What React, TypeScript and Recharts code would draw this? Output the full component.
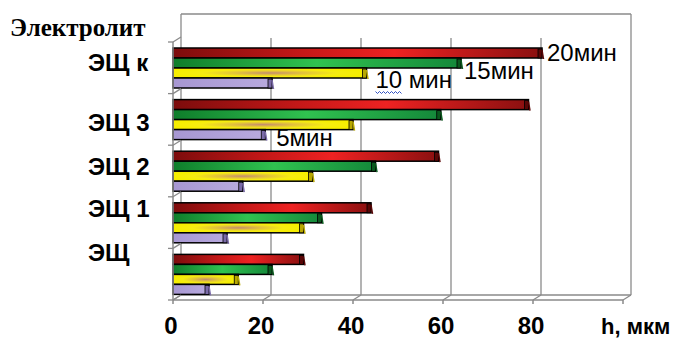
import { BarChart, Bar, XAxis, YAxis, CartesianGrid, LabelList } from "recharts";

const categories = ["ЭЩ к", "ЭЩ 3", "ЭЩ 2", "ЭЩ 1", "ЭЩ"];
const min20 = [82, 79, 59, 44, 29];
const min15 = [64, 59.5, 45, 33, 22];
const min10 = [43, 40, 31, 29, 14.5];
const min5 = [22, 20.5, 15.5, 12, 8];
const xTicks = [0, 20, 40, 60, 80, 100];

const data = categories.map((name, i) => ({
  name,
  m20: min20[i],
  m15: min15[i],
  m10: min10[i],
  m5: min5[i],
}));

const W = 677;
const H = 340;
const LEFT = 173;
const TOP = 42;
const PW = 450;
const PH = 258;
const BAND = PH / categories.length;
const DX = 8;
const DY = -5;
const AXIS = "#8a8a8a";
const SANS = "Liberation Sans, Arial, sans-serif";

// label offsets for the per-category text (3D projection in the original)
const labelShift = [-5, 3, -5, -14, -22];

function Bar3D(props: any) {
  const { x, y, width, height, fill, cap } = props;
  if (!width || width <= 0) return null;
  return (
    <g>
      <rect x={x} y={y} width={width} height={height} fill={fill} stroke="#000" strokeWidth={1.5} />
      <rect x={x + width - 4} y={y + 1} width={4} height={height - 1} fill={cap} stroke="#000" strokeWidth={0.8} />
      <line x1={x + width} y1={y + 2} x2={x + width + 1.5} y2={y + height + 1} stroke={cap} strokeWidth={1.5} />
    </g>
  );
}

function CatTick(props: any) {
  const { y, payload, index } = props;
  const top = y - BAND / 2;
  const bottom = y + BAND / 2;
  const mark = (yy: number, k: string) => (
    <g key={k}>
      <line x1={LEFT - 5} y1={yy} x2={LEFT} y2={yy} stroke={AXIS} strokeWidth={1.3} />
      <line x1={LEFT} y1={yy} x2={LEFT + DX} y2={yy + DY} stroke={AXIS} strokeWidth={1.3} />
    </g>
  );
  return (
    <g>
      {mark(top, "t")}
      {index === categories.length - 1 && mark(bottom, "b")}
      <text
        x={LEFT - 85}
        y={y + labelShift[index] + 8.5}
        fontFamily={SANS}
        fontWeight="bold"
        fontSize={24}
        fill="#000"
      >
        {payload.value}
      </text>
    </g>
  );
}

function ValTick(props: any) {
  const { x, y, payload } = props;
  return (
    <text
      x={x - 2}
      y={y + 28}
      textAnchor="middle"
      fontFamily={SANS}
      fontWeight="bold"
      fontSize={24}
      fill="#000"
    >
      {payload.value === 100 ? "" : payload.value}
    </text>
  );
}

function GridLine(props: any) {
  const { x1, y1, y2, index } = props;
  const bx = x1 + DX;
  const last = index === xTicks.length - 1;
  const edge = index === 0 || last;
  return (
    <g key={`g-${index}`}>
      <line x1={bx} y1={edge ? 14 : y1 - 4} x2={bx} y2={y2 + DY} stroke={AXIS} strokeWidth={1.3} />
      <line x1={x1} y1={y2} x2={bx} y2={y2 + DY} stroke={AXIS} strokeWidth={1.3} />
      {index === 0 && (
        <>
          <line x1={bx} y1={14} x2={bx + PW} y2={14} stroke={AXIS} strokeWidth={1.3} />
          <line x1={bx} y1={y2 + DY} x2={bx + PW} y2={y2 + DY} stroke={AXIS} strokeWidth={1.3} />
        </>
      )}
    </g>
  );
}

function seriesLabel(text: string, at: number, dx: number, dy: number, squiggle?: boolean) {
  return (props: any) => {
    const { x, y, width, height, index } = props;
    if (index !== at) return null;
    const tx = x + width + dx;
    const ty = y + height / 2 + dy + 8.5;
    return (
      <g>
        <text x={tx} y={ty} fontFamily={SANS} fontSize={24} fill="#000">
          {text}
        </text>
        {squiggle && (
          <path
            d={`M${tx} ${ty + 4} l2 2 l2 -2 l2 2 l2 -2 l2 2 l2 -2 l2 2 l2 -2 l2 2 l2 -2 l2 2 l2 -2 l2 2`}
            stroke="#3050c0"
            strokeWidth={1}
            fill="none"
          />
        )}
      </g>
    );
  };
}

export default function App() {
  return (
    <div style={{ position: "absolute", left: 0, top: 0, width: W, height: H, background: "#fff" }}>
      <BarChart
        width={W}
        height={H}
        data={data}
        layout="vertical"
        margin={{ top: TOP, right: W - LEFT - PW, bottom: 0, left: 0 }}
        barSize={10}
        barGap={0}
      >
        <defs>
          <linearGradient id="gRed" x1="0" y1="0" x2="1" y2="0">
            <stop offset="0%" stopColor="#7c0c0c" />
            <stop offset="35%" stopColor="#c41818" />
            <stop offset="60%" stopColor="#ee2222" />
            <stop offset="100%" stopColor="#8a1010" />
          </linearGradient>
          <linearGradient id="gGreen" x1="0" y1="0" x2="1" y2="0">
            <stop offset="0%" stopColor="#0f7d2b" />
            <stop offset="50%" stopColor="#30c250" />
            <stop offset="100%" stopColor="#14883a" />
          </linearGradient>
          <radialGradient id="gYellow" cx="0.5" cy="0.5" r="0.5">
            <stop offset="0%" stopColor="#c48c70" />
            <stop offset="35%" stopColor="#e2c23c" />
            <stop offset="70%" stopColor="#f6ec12" />
            <stop offset="100%" stopColor="#f6ee00" />
          </radialGradient>
          <linearGradient id="gLav" x1="0" y1="0" x2="1" y2="0">
            <stop offset="0%" stopColor="#a797d2" />
            <stop offset="100%" stopColor="#b8aade" />
          </linearGradient>
        </defs>
        <text x={10} y={36} fontFamily="Liberation Serif, Times New Roman, serif" fontWeight="bold" fontSize={25} fill="#000">
          Электролит
        </text>
        <CartesianGrid horizontal={false} vertical={GridLine as any} />
        <XAxis
          type="number"
          domain={[0, 100]}
          ticks={xTicks}
          height={H - TOP - PH}
          stroke={AXIS}
          strokeWidth={1.5}
          tickSize={4}
          tick={<ValTick />}
          interval={0}
        />
        <YAxis
          type="category"
          dataKey="name"
          width={LEFT}
          stroke={AXIS}
          strokeWidth={1.5}
          tickLine={false}
          tick={<CatTick />}
          interval={0}
        />
        <Bar dataKey="m20" fill="url(#gRed)" shape={<Bar3D cap="#5a0606" />} isAnimationActive={false}>
          <LabelList content={seriesLabel("20мин", 0, 5, -1)} />
        </Bar>
        <Bar dataKey="m15" fill="url(#gGreen)" shape={<Bar3D cap="#0a5a1e" />} isAnimationActive={false}>
          <LabelList content={seriesLabel("15мин", 0, 3, 7)} />
        </Bar>
        <Bar dataKey="m10" fill="url(#gYellow)" shape={<Bar3D cap="#b8a800" />} isAnimationActive={false}>
          <LabelList content={seriesLabel("10 мин", 0, 9, 6, true)} />
        </Bar>
        <Bar dataKey="m5" fill="url(#gLav)" shape={<Bar3D cap="#7a6aa8" />} isAnimationActive={false}>
          <LabelList content={seriesLabel("5мин", 1, 11, 3)} />
        </Bar>
        <text x={601} y={334} fontFamily={SANS} fontWeight="bold" fontSize={22} fill="#000">
          h, мкм
        </text>
      </BarChart>
    </div>
  );
}
